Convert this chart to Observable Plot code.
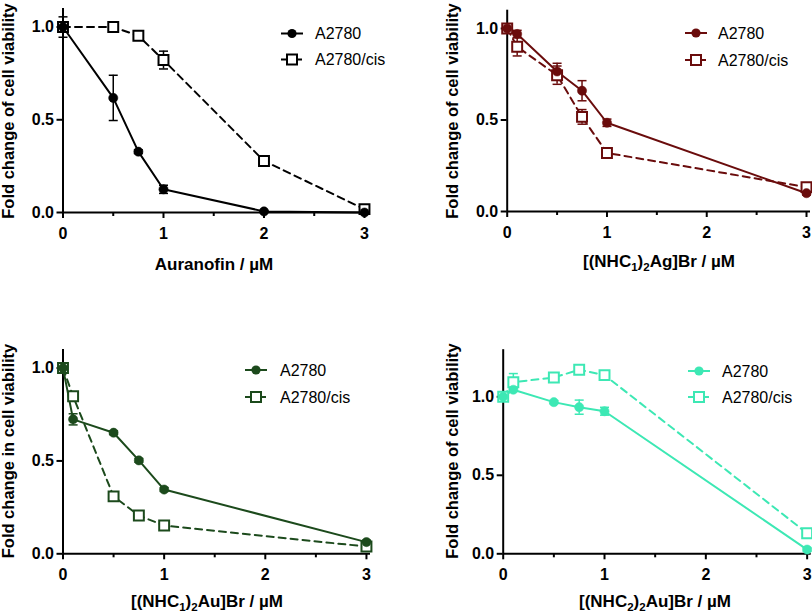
<!DOCTYPE html>
<html><head><meta charset="utf-8">
<script src="https://cdn.jsdelivr.net/npm/d3@7"></script>
<script src="https://cdn.jsdelivr.net/npm/@observablehq/plot@0.6"></script>
<style>
body{margin:0;background:#fff;}
#root{position:relative;width:812px;height:615px;font-family:"Liberation Sans",Arial,sans-serif;overflow:hidden;}
#root svg{position:absolute;overflow:visible;background:none;}
</style></head><body><div id="root"></div>
<script>
// ---------- data ----------
const seriesNames = ["A2780", "A2780/cis"];
const xTicks = [0, 1, 2, 3];
const xMinorTicks = [0.5, 1.5, 2.5];
const yTicks = [0, 0.5, 1.0];

// Panel 1: Auranofin
const aurConc = [0, 0.5, 0.75, 1, 2, 3];
const aurA2780 = [1.0, 0.618, 0.328, 0.125, 0.006, 0.0];
const aurA2780Err = [0.055, 0.122, 0.01, 0.022, 0.004, 0.004];
const aurCis = [1.0, 1.0, 0.953, 0.822, 0.278, 0.018];
const aurCisErr = [0.01, 0.01, 0.012, 0.048, 0.01, 0.005];

// Panel 2: [(NHC1)2Ag]Br
const agConc = [0, 0.1, 0.5, 0.75, 1, 3];
const agA2780 = [1.0, 0.97, 0.765, 0.66, 0.485, 0.10];
const agA2780Err = [0.01, 0.02, 0.045, 0.055, 0.02, 0.01];
const agCis = [1.0, 0.90, 0.745, 0.517, 0.32, 0.133];
const agCisErr = [0.01, 0.05, 0.05, 0.04, 0.01, 0.01];

// Panel 3: [(NHC1)2Au]Br
const au1Conc = [0, 0.1, 0.5, 0.75, 1, 3];
const au1A2780 = [1.0, 0.724, 0.652, 0.503, 0.346, 0.063];
const au1A2780Err = [0.01, 0.03, 0.01, 0.01, 0.01, 0.01];
const au1Cis = [1.0, 0.848, 0.309, 0.206, 0.152, 0.039];
const au1CisErr = [0.01, 0.01, 0.01, 0.01, 0.01, 0.01];

// Panel 4: [(NHC2)2Au]Br
const au2Conc = [0, 0.1, 0.5, 0.75, 1, 3];
const au2A2780 = [1.0, 1.045, 0.966, 0.934, 0.908, 0.027];
const au2A2780Err = [0.01, 0.01, 0.01, 0.045, 0.025, 0.01];
const au2Cis = [1.0, 1.093, 1.123, 1.172, 1.138, 0.131];
const au2CisErr = [0.01, 0.055, 0.01, 0.01, 0.01, 0.01];

// ---------- drawing ----------
const FONT = "'Liberation Sans', Arial, Helvetica, sans-serif";
const capSymbol = {draw(ctx) { ctx.moveTo(-4.5, 0); ctx.lineTo(4.5, 0); }};

function panel(cfg) {
  const aRows = cfg.conc.map((x, i) => ({x, y: cfg.a[i], e: cfg.aErr[i], s: seriesNames[0]}));
  const cRows = cfg.conc.map((x, i) => ({x, y: cfg.c[i], e: cfg.cErr[i], s: seriesNames[1]}));
  const all = cRows.concat(aRows);
  const col = cfg.color;
  const svg = Plot.plot({
    width: 406, height: cfg.height,
    marginLeft: cfg.ml, marginRight: cfg.mr, marginTop: cfg.mt, marginBottom: cfg.mb,
    x: {domain: [0, 3.04]},
    y: {domain: [0, cfg.yMax]},
    style: {fontFamily: FONT, background: "none", overflow: "visible"},
    marks: [
      Plot.axisX({ticks: xTicks, tickSize: 6, tickPadding: 9, tickFormat: d3.format("d"), label: null,
                  fontSize: 16, fontWeight: "bold", strokeWidth: 2, fill: "#000"}),
      Plot.axisX({ticks: xMinorTicks, tickSize: 4, text: null, label: null, strokeWidth: 2}),
      Plot.axisY({ticks: yTicks, tickSize: 6, tickPadding: 3, tickFormat: d3.format(".1f"), label: null,
                  fontSize: 16, fontWeight: "bold", strokeWidth: 2, fill: "#000"}),
      Plot.ruleY([0], {stroke: "#000", strokeWidth: 2}),
      Plot.ruleX([0], {stroke: "#000", strokeWidth: 2}),
      Plot.line(cRows, {x: "x", y: "y", stroke: col, strokeWidth: 2, strokeDasharray: "7,5"}),
      Plot.line(aRows, {x: "x", y: "y", stroke: col, strokeWidth: 2}),
      Plot.ruleX(all, {x: "x", y1: d => d.y - d.e, y2: d => d.y + d.e, stroke: col, strokeWidth: 1.5}),
      Plot.dot(all, {x: "x", y: d => d.y + d.e, symbol: capSymbol, fill: "none", stroke: col, strokeWidth: 1.5}),
      Plot.dot(all, {x: "x", y: d => d.y - d.e, symbol: capSymbol, fill: "none", stroke: col, strokeWidth: 1.5}),
      Plot.dot(cRows, {x: "x", y: "y", symbol: "square", r: 5.6, fill: "white", stroke: col, strokeWidth: 2}),
      Plot.dot(aRows, {x: "x", y: "y", r: 4.6, fill: col, stroke: col, strokeWidth: 0.5})
    ]
  });
  svg.style.left = cfg.left + "px";
  svg.style.top = cfg.top + "px";
  const s = d3.select(svg);

  // y axis title
  s.append("text")
    .attr("transform", `translate(${cfg.yLabelX},${cfg.yLabelY}) rotate(-90)`)
    .attr("text-anchor", "middle")
    .attr("font-family", FONT).attr("font-size", 16.5).attr("font-weight", "bold").attr("fill", "#000")
    .text(cfg.yLabel);

  // x axis title with subscripts
  const xt = s.append("text")
    .attr("x", cfg.xLabelX).attr("y", cfg.xLabelY)
    .attr("text-anchor", "middle")
    .attr("font-family", FONT).attr("font-size", 17).attr("font-weight", "bold").attr("fill", "#000");
  cfg.xLabel.forEach(part => {
    if (part.sub) xt.append("tspan").attr("font-size", 11.5).attr("dy", 4).text(part.t);
    else xt.append("tspan").attr("dy", part.after ? -4 : 0).text(part.t);
  });

  // legend
  const lg = s.append("g").attr("font-family", FONT).attr("font-size", 16).attr("text-anchor", "start");
  seriesNames.forEach((name, i) => {
    const ly = cfg.legY[i], lx = cfg.legX;
    lg.append("line").attr("x1", lx).attr("x2", lx + 22).attr("y1", ly).attr("y2", ly)
      .attr("stroke", col).attr("stroke-width", 2)
      .attr("stroke-dasharray", i === 1 ? "5,3" : null);
    if (i === 0) {
      lg.append("circle").attr("cx", lx + 11).attr("cy", ly).attr("r", 4.6).attr("fill", col);
    } else {
      lg.append("rect").attr("x", lx + 6).attr("y", ly - 5).attr("width", 10).attr("height", 10)
        .attr("fill", "white").attr("stroke", col).attr("stroke-width", 2);
    }
    lg.append("text").attr("x", cfg.legTextX).attr("y", ly).attr("dy", "0.36em")
      .attr("text-anchor", "start").attr("fill", "#000").text(name);
  });
  document.getElementById("root").appendChild(svg);
}

panel({conc: aurConc, a: aurA2780, aErr: aurA2780Err, c: aurCis, cErr: aurCisErr, color: "#000000",
  left: 0, top: 0, height: 300, ml: 62.5, mr: 38, mt: 8, mb: 88, yMax: 1.1,
  yLabel: "Fold change of cell viability", yLabelX: 13.5, yLabelY: 111,
  xLabel: [{t: "Auranofin / µM"}], xLabelX: 214, xLabelY: 270,
  legX: 281, legTextX: 315, legY: [33.5, 59.5]});

panel({conc: agConc, a: agA2780, aErr: agA2780Err, c: agCis, cErr: agCisErr, color: "#6a0c0c",
  left: 406, top: 0, height: 300, ml: 100.7, mr: 2, mt: 9.7, mb: 89, yMax: 1.1,
  yLabel: "Fold change of cell viability", yLabelX: 51.5, yLabelY: 111,
  xLabel: [{t: "[(NHC"}, {t: "1", sub: true}, {t: ")", after: true}, {t: "2", sub: true}, {t: "Ag]Br / µM", after: true}],
  xLabelX: 253, xLabelY: 267,
  legX: 279, legTextX: 312, legY: [33, 60]});

panel({conc: au1Conc, a: au1A2780, aErr: au1A2780Err, c: au1Cis, cErr: au1CisErr, color: "#1c4a1c",
  left: 0, top: 300, height: 315, ml: 62.5, mr: 36, mt: 49, mb: 61.7, yMax: 1.1,
  yLabel: "Fold change in cell viability", yLabelX: 13.5, yLabelY: 151,
  xLabel: [{t: "[(NHC"}, {t: "1", sub: true}, {t: ")", after: true}, {t: "2", sub: true}, {t: "Au]Br / µM", after: true}],
  xLabelX: 207, xLabelY: 307,
  legX: 245, legTextX: 280, legY: [70, 97]});

panel({conc: au2Conc, a: au2A2780, aErr: au2A2780Err, c: au2Cis, cErr: au2CisErr, color: "#3de8b4",
  left: 406, top: 300, height: 315, ml: 96.7, mr: 1.3, mt: 49.2, mb: 61.7, yMax: 1.3,
  yLabel: "Fold change of cell viability", yLabelX: 51.5, yLabelY: 151,
  xLabel: [{t: "[(NHC"}, {t: "2", sub: true}, {t: ")", after: true}, {t: "2", sub: true}, {t: "Au]Br / µM", after: true}],
  xLabelX: 249, xLabelY: 307,
  legX: 282, legTextX: 316, legY: [71, 97]});
</script></body></html>
